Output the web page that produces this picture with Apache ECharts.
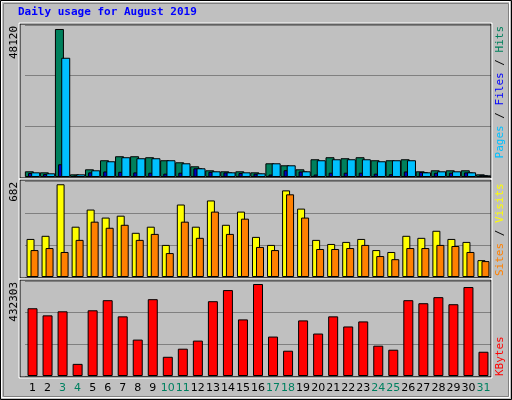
<!DOCTYPE html>
<html><head><meta charset="utf-8">
<script src="https://cdn.jsdelivr.net/npm/echarts@6/dist/echarts.min.js"></script>
<style>html,body{margin:0;padding:0;background:#C0C0C0}#c{width:512px;height:400px}</style>
</head><body><div id="c"></div>
<script>
const days = ['1','2','3','4','5','6','7','8','9','10','11','12','13','14','15','16','17','18','19','20','21','22','23','24','25','26','27','28','29','30','31'];
const weekend = ['3','4','10','11','17','18','24','25','31'];
const hits = [1850,1520,48120,870,2500,5450,6750,6750,6430,5450,4790,3480,2180,1850,1850,1520,4460,3810,2500,5770,6430,6100,6430,5450,5450,5770,1850,2180,2180,2180,870];
const files = [1520,1200,38770,870,2180,5120,6430,6100,6100,5450,4460,2830,1850,1520,1520,1200,4460,3810,1850,5450,5770,5770,5770,5120,5450,5450,1520,1850,1850,1520,540];
const pages = [1300,1000,4140,500,1500,1800,1700,1500,1400,1100,1400,2830,1700,1500,1300,1100,800,2200,1800,800,1400,1400,1400,1100,900,1800,1600,1400,1400,1500,600];
const sites = [280,303,682,370,496,437,451,325,370,236,533,370,563,384,481,295,236,637,503,273,243,258,280,198,184,303,288,340,280,258,124];
const visits = [198,213,184,273,407,362,384,273,317,176,407,288,481,317,429,221,198,608,437,206,206,213,236,154,131,213,213,236,228,184,117];
const kbytes = [318300,285000,304000,57000,308800,356300,280300,171000,361000,90300,128300,166300,351500,403800,266000,432303,185300,118800,261300,199500,280300,232800,256500,142500,123500,356300,342000,370500,337300,418000,114000];
const maxLabels = ['48120','682','432303'];

const chart = echarts.init(document.getElementById('c'));
const L = 25, W = 466;
const panels = [{top:25,h:152,max:49420},{top:181,h:96,max:706},{top:281,h:95,max:446400}];
const grids = panels.map(p=>({left:L,width:W,top:p.top,height:p.h,show:false}));
const xAxes = panels.map((p,i)=>({type:'category',gridIndex:i,data:days,
  axisLine:{show:false},axisTick:{show:false},
  axisLabel:{show:i===2,fontFamily:'DejaVu Sans',fontSize:11,margin:7,interval:0,
    color:(v)=>weekend.includes(v)?'#008060':'#000'}}));
const yAxes = panels.map((p,i)=>({type:'value',gridIndex:i,min:0,max:p.max,interval:p.max/3,
  axisLabel:{show:false},axisLine:{show:false},axisTick:{show:false},
  splitLine:{show:true,lineStyle:{color:'#808080',width:1}}}));
const bs = (name,data,gi,color,w,gap,z)=>({name,type:'bar',data,xAxisIndex:gi,yAxisIndex:gi,
  barWidth:w,barGap:gap,z:z||2,itemStyle:{color,borderColor:'#000',borderWidth:1},silent:true});
const frames = [];
panels.forEach(p=>{
  frames.push({type:'rect',shape:{x:20,y:p.top-1,width:471,height:p.h+2},
    style:{fill:null,stroke:'#000',lineWidth:1},z:10});
  frames.push({type:'rect',shape:{x:19,y:p.top-2,width:473,height:p.h+4},
    style:{fill:null,stroke:'#fff',lineWidth:1},z:10});
});
const mono = 'DejaVu Sans Mono';
const vtext = (x,y,align,rich,textStr)=>({type:'text',x,y,rotation:Math.PI/2,z:20,
  style:{text:textStr,rich,align,verticalAlign:'middle',font:'11px '+mono,fill:'#000'}});
chart.setOption({
  animation:false,
  grid:grids, xAxis:xAxes, yAxis:yAxes,
  series:[
    bs('Hits',hits,0,'#00805C',9,'-65%',2),
    bs('Pages',pages,0,'#0000C0',9,'-65%',3),
    bs('Files',files,0,'#00C0FF',9,'-65%',4),
    bs('Sites',sites,1,'#FFFF00',8,'-50%',2),
    bs('Visits',visits,1,'#FF8000',8,'-50%',3),
    bs('KBytes',kbytes,2,'#FF0000',10,'0%',2)
  ],
  graphic:[
    {type:'rect',shape:{x:0.5,y:0.5,width:511,height:399},style:{fill:null,stroke:'#000',lineWidth:1},z:1},
    {type:'rect',shape:{x:1.5,y:1.5,width:508,height:396},style:{fill:null,stroke:'#fff',lineWidth:1},z:1},
    {type:'rect',shape:{x:3.5,y:3.5,width:505,height:393},style:{fill:null,stroke:'#808080',lineWidth:1},z:1},
    ...frames,
    {type:'text',x:18,y:12,z:20,style:{text:'Daily usage for August 2019',font:'bold 11px '+mono,fill:'#0000FF',verticalAlign:'middle'}},
    vtext(14,26,'right',{},maxLabels[0]),
    vtext(14,182,'right',{},maxLabels[1]),
    vtext(14,282,'right',{},maxLabels[2]),
    vtext(500,26,'right',{p:{fill:'#00C0FF',font:'11px '+mono},f:{fill:'#0000FF',font:'11px '+mono},h:{fill:'#00805C',font:'11px '+mono},s:{fill:'#000',font:'11px '+mono}},
      '{p|Pages}{s| / }{f|Files}{s| / }{h|Hits}'),
    vtext(500,276,'left',{a:{fill:'#FF8000',font:'11px '+mono},b:{fill:'#FFFF00',font:'11px '+mono},s:{fill:'#000',font:'11px '+mono}},
      '{a|Sites}{s| / }{b|Visits}'),
    vtext(500,376,'left',{k:{fill:'#FF0000',font:'11px '+mono}},'{k|KBytes}')
  ]
});
</script></body></html>
